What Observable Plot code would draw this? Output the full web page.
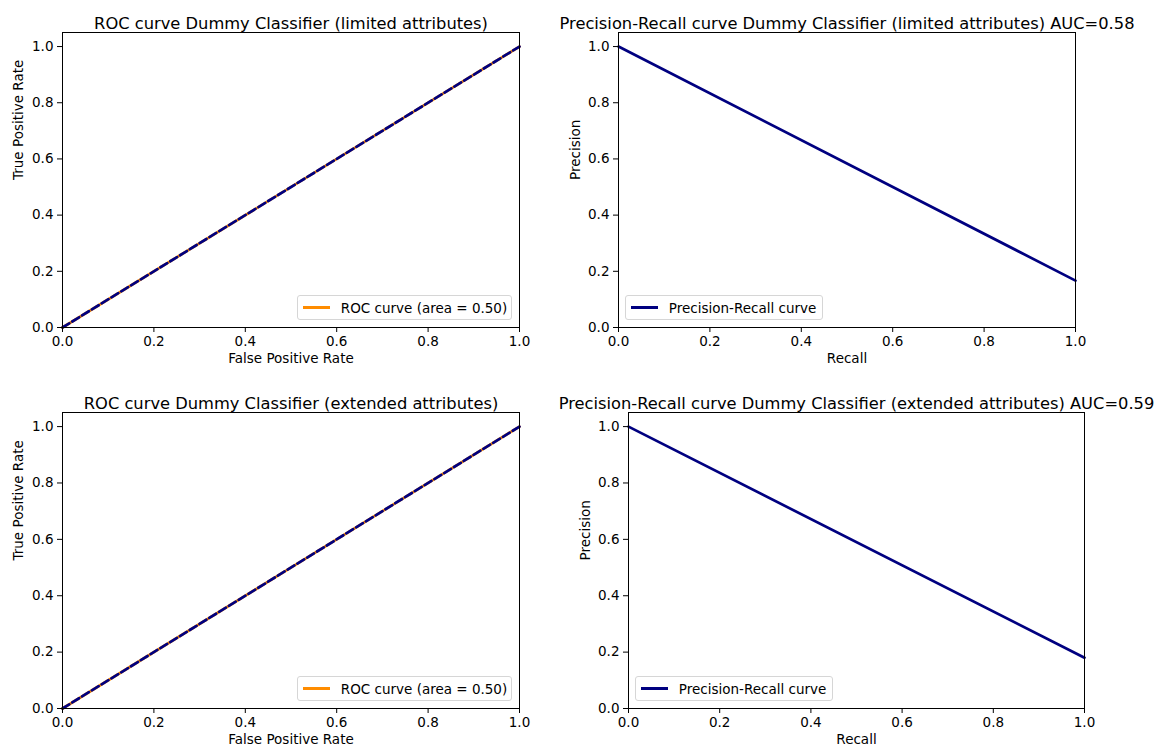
<!DOCTYPE html>
<html><head><meta charset="utf-8">
<script src="https://cdn.jsdelivr.net/npm/d3@7"></script>
<script src="https://cdn.jsdelivr.net/npm/@observablehq/plot@0.6"></script>
<style>
html,body{margin:0;padding:0;background:#fff;}
#fig{position:relative;width:1168px;height:753px;font-family:"DejaVu Sans",sans-serif;overflow:hidden;}
.panel{position:absolute;}
.panel svg{overflow:visible;}
.legend{position:absolute;box-sizing:border-box;border:1px solid #d6d6d6;border-radius:3px;background:rgba(255,255,255,0.8);font-size:13.5px;color:#000;display:flex;align-items:center;white-space:nowrap;}
.legend .h{width:27px;height:2.7px;margin-left:5px;margin-right:10.8px;flex:none;}
</style></head><body><div id="fig"></div>
<script>
// ---- data ----
const titles = [
  "ROC curve Dummy Classifier (limited attributes)",
  "Precision-Recall curve Dummy Classifier (limited attributes) AUC=0.58",
  "ROC curve Dummy Classifier (extended attributes)",
  "Precision-Recall curve Dummy Classifier (extended attributes) AUC=0.59"
];
const rocFprLimited = [0, 1];
const rocTprLimited = [0, 1];
const rocFprExtended = [0, 1];
const rocTprExtended = [0, 1];
const chanceX = [0, 1];
const chanceY = [0, 1];
const prRecallLimited = [1, 0];
const prPrecisionLimited = [0.167, 1];
const prRecallExtended = [1, 0];
const prPrecisionExtended = [0.18, 1];
const tickValues = [0, 0.2, 0.4, 0.6, 0.8, 1.0];
const rocLegendLabel = "ROC curve (area = 0.50)";
const prLegendLabel = "Precision-Recall curve";
const rocXLabel = "False Positive Rate", rocYLabel = "True Positive Rate";
const prXLabel = "Recall", prYLabel = "Precision";

const ORANGE = "#ff8c00", NAVY = "#000080";
const fig = document.getElementById("fig");
const fmt = d3.format(".1f");
const zip = (xs, ys) => xs.map((x, i) => ({x, y: ys[i]}));

function panel({left, top, width, height, frame, title, xlabel, ylabel, ylabelX, lines, legend}) {
  const [x0, x1, y0, y1] = frame;
  const chart = Plot.plot({
    width, height,
    marginLeft: x0 - left, marginRight: left + width - x1,
    marginTop: y0 - top, marginBottom: top + height - y1,
    x: {domain: [0, 1]},
    y: {domain: [0, 1.05]},
    style: {fontFamily: "DejaVu Sans, sans-serif", fontSize: "13.5px", color: "#000", background: "transparent", overflow: "visible"},
    marks: [
      ...lines,
      Plot.frame({stroke: "#000", strokeWidth: 1}),
      Plot.axisX({ticks: tickValues, tickFormat: fmt, tickSize: 5, tickPadding: 4, label: null}),
      Plot.axisY({ticks: tickValues, tickFormat: fmt, tickSize: 5, tickPadding: 4, label: null}),
      Plot.text([title], {text: d => d, frameAnchor: "top", dy: -15, fontSize: 16.3}),
      Plot.text([xlabel], {text: d => d, frameAnchor: "bottom", dy: 35.5, fontSize: 13.5}),
      Plot.text([ylabel], {text: d => d, frameAnchor: "left", dx: ylabelX - x0, rotate: -90, fontSize: 13.5})
    ]
  });
  const div = document.createElement("div");
  div.className = "panel";
  div.style.left = left + "px"; div.style.top = top + "px";
  div.appendChild(chart);
  fig.appendChild(div);
  const lg = document.createElement("div");
  lg.className = "legend";
  lg.style.left = legend.left + "px"; lg.style.top = legend.top + "px";
  lg.style.width = legend.width + "px"; lg.style.height = "25px";
  const h = document.createElement("div"); h.className = "h"; h.style.background = legend.color;
  const t = document.createElement("span"); t.textContent = legend.label;
  lg.appendChild(h); lg.appendChild(t);
  fig.appendChild(lg);
}

function rocLines(fpr, tpr) {
  return [
    Plot.line(zip(fpr, tpr), {x: "x", y: "y", stroke: ORANGE, strokeWidth: 2.7}),
    Plot.line(zip(chanceX, chanceY), {x: "x", y: "y", stroke: NAVY, strokeWidth: 2.7, strokeDasharray: "8,3.5"})
  ];
}
function prLines(rec, prec) {
  return [Plot.line(zip(rec, prec), {x: "x", y: "y", stroke: NAVY, strokeWidth: 2.7})];
}

panel({left: 0, top: 0, width: 556, height: 376, frame: [62, 519, 32, 327],
  title: titles[0], xlabel: rocXLabel, ylabel: rocYLabel, ylabelX: 18,
  lines: rocLines(rocFprLimited, rocTprLimited),
  legend: {left: 297, top: 295, width: 215, label: rocLegendLabel, color: ORANGE}});
panel({left: 556, top: 0, width: 612, height: 376, frame: [618, 1075, 32, 327],
  title: titles[1], xlabel: prXLabel, ylabel: prYLabel, ylabelX: 575,
  lines: prLines(prRecallLimited, prPrecisionLimited),
  legend: {left: 625, top: 295, width: 198, label: prLegendLabel, color: NAVY}});
panel({left: 0, top: 376, width: 556, height: 377, frame: [62, 519, 412, 708],
  title: titles[2], xlabel: rocXLabel, ylabel: rocYLabel, ylabelX: 18,
  lines: rocLines(rocFprExtended, rocTprExtended),
  legend: {left: 297, top: 676, width: 215, label: rocLegendLabel, color: ORANGE}});
panel({left: 556, top: 376, width: 612, height: 377, frame: [628, 1084, 412, 708],
  title: titles[3], xlabel: prXLabel, ylabel: prYLabel, ylabelX: 585,
  lines: prLines(prRecallExtended, prPrecisionExtended),
  legend: {left: 635, top: 676, width: 198, label: prLegendLabel, color: NAVY}});
</script>
</body></html>
